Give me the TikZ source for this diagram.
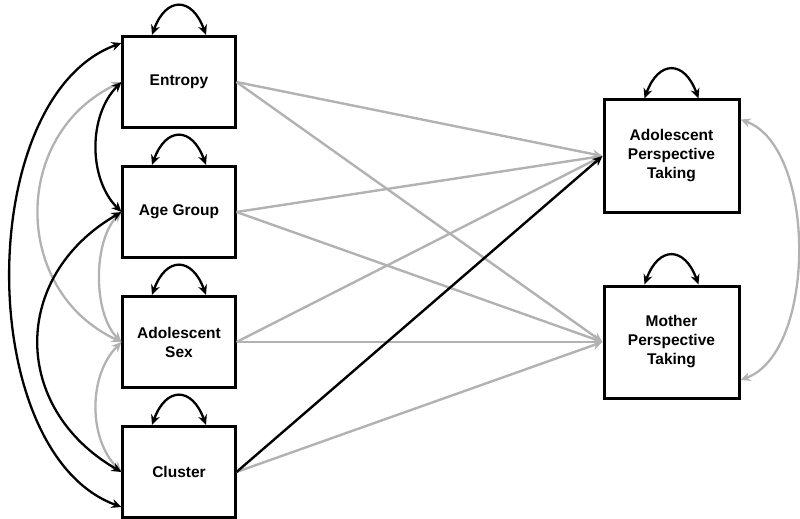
\documentclass[tikz,border=0pt]{standalone}
\usepackage{fontspec}
\setmainfont{Liberation Sans}
\usetikzlibrary{arrows.meta,positioning,calc}

\tikzset{
    var/.style={draw, line width=3pt, minimum width=112pt, minimum height=91pt,
        align=center, font=\bfseries\fontsize{15.5}{19}\selectfont},
    outvar/.style={var, minimum width=135pt, minimum height=112pt},
    reg/.style={-{Stealth[length=10pt,width=9pt]}, line width=2.4pt, gray!60},
    cov/.style={{Stealth[length=10pt,width=9pt]}-{Stealth[length=10pt,width=9pt]}, line width=2.3pt},
}

\begin{document}
\begin{tikzpicture}
    \node[var] (entropy) {Entropy};
    \node[var, below=36pt of entropy] (agegroup) {Age Group};
    \node[var, below=36pt of agegroup] (adolsex) {Adolescent\\Sex};
    \node[var, below=36pt of adolsex] (cluster) {Cluster};
    
    \node[outvar, right=366pt of agegroup, yshift=56pt] (apt) {Adolescent\\Perspective\\Taking};
    \node[outvar, right=366pt of adolsex] (mpt) {Mother\\Perspective\\Taking};
    
    \useasboundingbox ($(entropy.center)+(-179pt,82pt)$) rectangle ++(800pt,-518pt);
    
    \foreach \n in {entropy,agegroup,adolsex}
        \draw[reg] (\n.east) -- (apt.west);
    \foreach \n in {entropy,agegroup,adolsex,cluster}
        \draw[reg] (\n.east) -- (mpt.west);
    \draw[reg, black] (cluster.east) -- (apt.west);
    
    \foreach \n in {entropy,agegroup,adolsex,cluster,apt,mpt}
        \draw[cov] ([xshift=-27pt]\n.north) to[out=70,in=110,looseness=1.95] ([xshift=27pt]\n.north);
    
    \draw[cov, gray!60] (entropy.west) to[out=205,in=155,looseness=1.2] (adolsex.west);
    \draw[cov, gray!60] (agegroup.west) to[out=225,in=135,looseness=0.8] (adolsex.west);
    \draw[cov, gray!60] (adolsex.west) to[out=225,in=135,looseness=0.93] (cluster.west);
    \draw[cov] ([yshift=-8pt]entropy.north west) to[out=200,in=160,looseness=0.87] ([yshift=12pt]cluster.south west);
    \draw[cov] (entropy.west) to[out=225,in=135,looseness=0.93] (agegroup.west);
    \draw[cov] (agegroup.west) to[out=210,in=150,looseness=1.26] (cluster.west);
    
    \draw[cov, gray!60] ([yshift=-21pt]apt.north east) to[out=-20,in=20,looseness=0.8] ([yshift=-38pt]mpt.east);
\end{tikzpicture}
\end{document}
